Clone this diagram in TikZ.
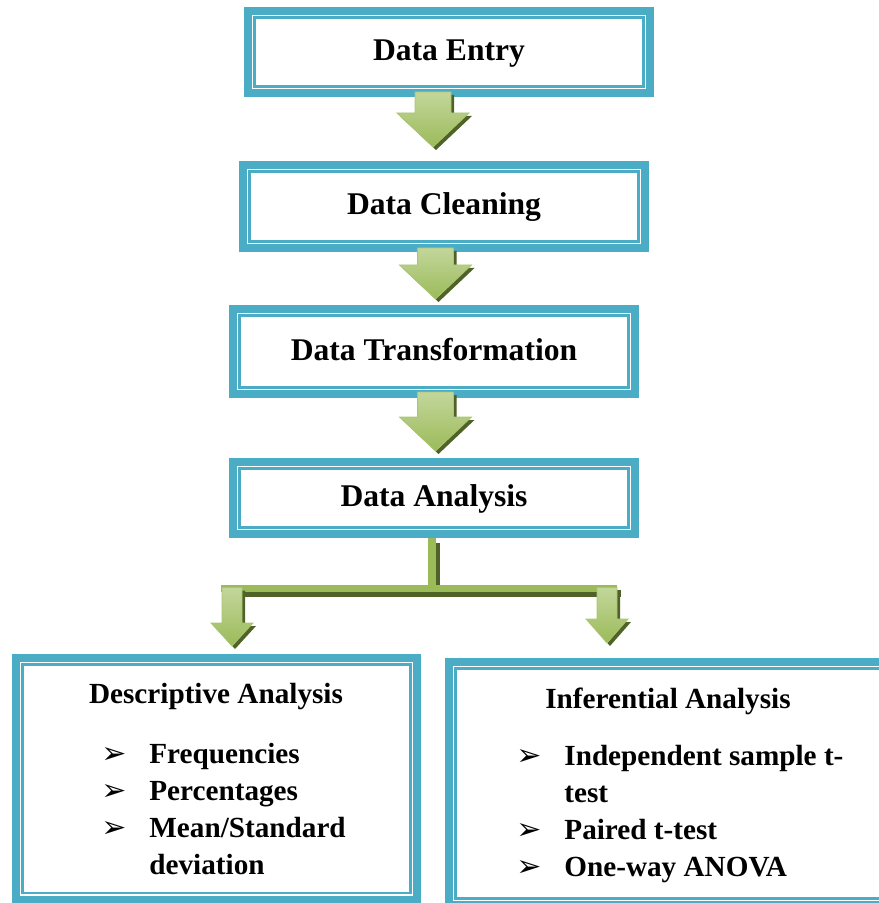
\documentclass[tikz,border=0pt]{standalone}
\usepackage{fontspec}
\setmainfont{Liberation Serif}
\newfontfamily\bulfont{DejaVu Sans}
\usetikzlibrary{calc, shadows}

\definecolor{boxteal}{HTML}{4BACC6}
\definecolor{arrowgreen}{HTML}{9BBB59}
\definecolor{arrowlight}{HTML}{C3D69B}
\definecolor{arrowdark}{HTML}{4F6228}

\newcommand{\bul}{{\bulfont\fontsize{15}{15}\selectfont ➢}}
% from, to, half shaft, half head, head length
\newcommand{\flowarrow}[5]{%
  \path[arrow body] let \p1=(#1), \p2=(#2) in
    (\x1-#3,\y1) -- (\x1+#3,\y1) -- (\x1+#3,\y2+#5) -- (\x1+#4,\y2+#5)
    -- (\x1,\y2) -- (\x1-#4,\y2+#5) -- (\x1-#3,\y2+#5) -- cycle;}

\begin{document}
\begin{tikzpicture}[x=0.5pt,y=-0.5pt,
  box/.style={draw=boxteal,line width=4pt,fill=white,minimum width=201pt,inner sep=0pt,
    font=\fontsize{15.8}{19}\selectfont\bfseries,text height=10.5pt,text depth=2pt,
    path picture={\draw[boxteal,line width=1.2pt]
      ([shift={(3.3pt,-3.3pt)}]path picture bounding box.north west) rectangle
      ([shift={(-3.3pt,3.3pt)}]path picture bounding box.south east);}},
  arrow body/.style={top color=arrowlight,bottom color=arrowgreen,draw=arrowgreen!85!white,line width=0.4pt,
    drop shadow={shadow xshift=1.5pt,shadow yshift=-1.5pt,fill=arrowdark,opacity=1}},
  branch/.style={draw=arrowgreen,line width=3.75pt,
    preaction={draw=arrowdark,line width=3.75pt,transform canvas={shift={(2pt,-2.5pt)}}}},
  list/.style={font=\fontsize{14.6}{18.5}\selectfont\bfseries,inner sep=0pt}]
  \useasboundingbox (0,0) rectangle (878,903);

  \node[box,minimum height=41pt] (1) at (449,52) {Data Entry};
  \node[box,minimum height=41.5pt] (2) at (444,206.5) {Data Cleaning};
  \node[box,minimum height=42.5pt] (3) at (434,351.5) {Data Transformation};
  \node[box,minimum height=36pt] (4) at (434,498) {Data Analysis};
  \node[box,minimum width=200.5pt,minimum height=120.75pt] (5) at (216.5,778.75) {};
  \node[box,minimum width=223pt,minimum height=121.5pt] (6) at (672,783.5) {};

  \flowarrow{[shift={(-16,-5)}]1.south}{[shift={(-16,-14)}]2.north}{9pt}{18pt}{17pt}
  \flowarrow{[shift={(-8.5,-4)}]2.south}{[shift={(-8.5,-6)}]3.north}{9pt}{18pt}{17pt}
  \flowarrow{[shift={(1.5,-6)}]3.south}{[shift={(1.5,-7)}]4.north}{9pt}{18pt}{17pt}

  \coordinate (js) at (432,588.5);
  \coordinate (jl) at (221,588.5);
  \coordinate (jr) at (617,588.5);
  \draw[branch] (js |- 4.south) -- (js);
  \draw[branch] (jl) -- (jr);
  \flowarrow{[shift={(11,-1)}]jl}{[shift={(0,-8)}]5.north}{5pt}{10.5pt}{11.5pt}
  \flowarrow{[shift={(-10,-1)}]jr}{[shift={(0,-15)}]6.north}{5pt}{10.5pt}{12pt}

  \node[list,anchor=base] (5t) at (216,703) {Descriptive Analysis};
  \node[list,anchor=base west] (5l) at (101,763) {\begin{tabular}[t]{@{}p{24pt}@{}l@{}}
    \bul & Frequencies\\ \bul & Percentages\\ \bul & Mean/Standard\\ & deviation
  \end{tabular}};
  \node[list,anchor=base] (6t) at (668,708) {Inferential Analysis};
  \node[list,anchor=base west] (6l) at (516,765) {\begin{tabular}[t]{@{}p{24pt}@{}l@{}}
    \bul & Independent sample t-\\ & test\\ \bul & Paired t-test\\ \bul & One-way ANOVA
  \end{tabular}};
\end{tikzpicture}
\end{document}
